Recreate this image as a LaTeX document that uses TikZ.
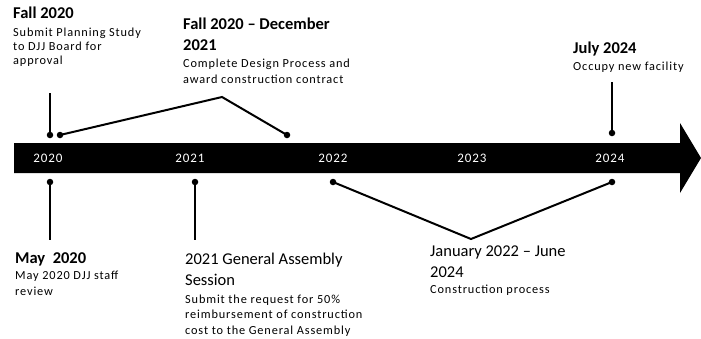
\documentclass[tikz,border=0pt]{standalone}
\usepackage{fontspec}
\setmainfont{Carlito}
\newfontfamily\spacedfont[LetterSpace=7]{Carlito}
\usetikzlibrary{positioning}

\tikzset{
  dot/.style={circle, fill=black, inner sep=0pt, minimum size=6.5pt},
  stem/.style={line width=2pt},
  head/.style={anchor=base west, inner sep=0pt, align=left, font=\bfseries\fontsize{16.5}{20.5}\selectfont},
  headlight/.style={head, font=\fontsize{16.5}{20.5}\selectfont},
  note/.style={anchor=base west, inner sep=0pt, align=left, font=\spacedfont\fontsize{12.3}{15.5}\selectfont},
  year/.style={text=white, inner sep=0pt, font=\spacedfont\fontsize{13}{14}\selectfont},
}

\begin{document}
\begin{tikzpicture}[x=1pt, y=-1pt]
	\useasboundingbox (0,0) rectangle (701,338);
	
	% timeline bar
	\fill (14,143) -- (680,143) -- (680,123) -- (701,158) -- (680,193) -- (680,173) -- (14,173) -- cycle;
	\node [year] (y2020) at (48,158) {2020};
	\node [year] (y2021) at (190,158) {2021};
	\node [year] (y2022) at (333,158) {2022};
	\node [year] (y2023) at (472,158) {2023};
	\node [year] (y2024) at (610,158) {2024};
	
	% markers above the bar
	\node [dot] (d1) at (50,135) {};
	\node [dot] (d2) at (60,135) {};
	\node [dot] (d3) at (287,135) {};
	\node [dot] (d4) at (612,133) {};
	\coordinate (c1) at (50,93);
	\coordinate (c2) at (222,97);
	\coordinate (c4) at (612,82);
	\draw [stem] (d1.center) -- (c1);
	\draw [stem, line join=miter] (d2.center) -- (c2) -- (d3.center);
	\draw [stem] (d4.center) -- (c4);
	
	% markers below the bar
	\node [dot] (d5) at (50,182) {};
	\node [dot] (d6) at (195,182) {};
	\node [dot] (d7) at (333,182) {};
	\node [dot] (d8) at (612,182) {};
	\coordinate (c5) at (50,240);
	\coordinate (c6) at (195,240);
	\coordinate (c7) at (471,239);
	\draw [stem] (d5.center) -- (c5);
	\draw [stem] (d6.center) -- (c6);
	\draw [stem, line join=miter] (d7.center) -- (c7) -- (d8.center);
	
	% texts above (placed at the baseline of their last line)
	\node [head] (h1) at (13,18) {Fall 2020};
	\node [note, font=\spacedfont\fontsize{12.3}{14}\selectfont] (n1) at (13,64) {Submit Planning Study\\to DJJ Board for\\approval};
	\node [head] (h2) at (183,50) {Fall 2020 -- December\\2021};
	\node [note] (n2) at (183,83) {Complete Design Process and\\award construction contract};
	\node [head] (h3) at (573,53) {July 2024};
	\node [note] (n3) at (573,70) {Occupy new facility};
	
	% texts below
	\node [head] (h4) at (15,263) {May~~2020};
	\node [note] (n4) at (15,295) {May 2020 DJJ staff\\review};
	\node [headlight] (h5) at (185,285) {2021 General Assembly\\Session};
	\node [note] (n5) at (185,334) {Submit the request for 50\%\\reimbursement of construction\\cost to the General Assembly};
	\node [headlight] (h6) at (430,277) {January 2022 -- June\\2024};
	\node [note] (n6) at (430,293) {Construction process};
\end{tikzpicture}
\end{document}
